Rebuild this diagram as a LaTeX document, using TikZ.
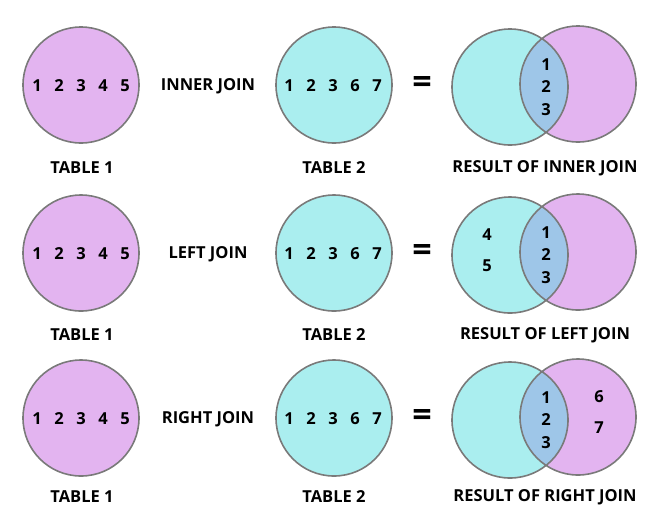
\documentclass[tikz,border=0pt]{standalone}
\usepackage{fontspec}
\setmainfont{Open Sans}
\usetikzlibrary{positioning}
\definecolor{tpink}{HTML}{E3B4F0}
\definecolor{tcyan}{HTML}{AAEEEF}
\definecolor{tboth}{HTML}{9EC6E8}
\definecolor{tline}{HTML}{7A7A7A}
\tikzset{
  tablecircle/.style={circle,minimum size=116pt,inner sep=0pt,draw=tline,line width=1.6pt},
  captiontext/.style={font=\bfseries\fontsize{16.5}{18}\selectfont},
  numtext/.style={font=\bfseries\fontsize{16.5}{18}\selectfont,inner sep=0pt},
  venn/.style={draw=tline,line width=1.6pt}
}

\begin{document}
\begin{tikzpicture}[x=1pt,y=-1pt]
\useasboundingbox (0,0) rectangle (661,531);
\foreach \y/\c/\j in {85/168/INNER,253/335/LEFT,418/497/RIGHT}{
  % the two tables
  \node[tablecircle,fill=tpink] (ta-\j) at (81,\y) {};
  \node[tablecircle,fill=tcyan] (tb-\j) at (334,\y) {};
  \foreach \n [count=\i] in {1,2,3,4,5}
    \node[numtext] (a\n-\j) at (15+22*\i,\y+1) {\n};
  \foreach \n [count=\i] in {1,2,3,6,7}
    \node[numtext] (b\n-\j) at (267+22*\i,\y+1) {\n};
  \node[captiontext] (ca-\j) at (82,\c) {TABLE 1};
  \node[captiontext] (cb-\j) at (334,\c) {TABLE 2};
  \node[captiontext] (op-\j) at (208,\y+1) {\j\ JOIN};
  \node[font=\bfseries\fontsize{34}{34}\selectfont] (eq-\j) at (422,\y) {=};
  % result
  \begin{scope}
    \fill[tcyan] (510,\y+2) circle (58pt);
    \fill[tpink] (578,\y-1) circle (58pt);
    \clip (510,\y+2) circle (58pt);
    \fill[tboth] (578,\y-1) circle (58pt);
  \end{scope}
  \draw[venn] (510,\y+2) circle (58pt) (578,\y-1) circle (58pt);
  \node[numtext] (r1-\j) at (546,\y-20) {1};
  \node[numtext] (r2-\j) at (546,\y+2) {2};
  \node[numtext] (r3-\j) at (546,\y+25) {3};
  \node[captiontext] (cr-\j) at (545,\c) {RESULT OF \j\ JOIN};
}
\node[numtext] (l4) at (487,235) {4};
\node[numtext] (l5) at (487,266) {5};
\node[numtext] (r6) at (599,397) {6};
\node[numtext] (r7) at (599,428) {7};
\end{tikzpicture}
\end{document}
